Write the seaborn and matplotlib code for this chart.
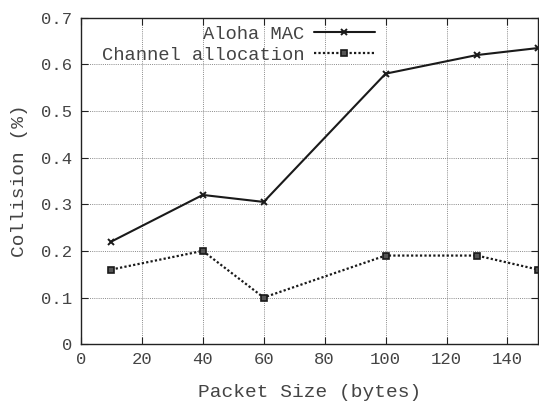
import matplotlib
matplotlib.use("Agg")
import matplotlib.pyplot as plt
import seaborn as sns
import pandas as pd

packet_size = [10, 40, 60, 100, 130, 150]
aloha_mac = [0.22, 0.32, 0.305, 0.58, 0.62, 0.635]
channel_alloc = [0.16, 0.20, 0.10, 0.19, 0.19, 0.16]
series_names = ["Aloha MAC", "Channel allocation"]
x_ticks = [0, 20, 40, 60, 80, 100, 120, 140]
y_ticks = [0, 0.1, 0.2, 0.3, 0.4, 0.5, 0.6, 0.7]

sns.set_style("ticks")
plt.rcParams["font.family"] = ["Liberation Mono", "DejaVu Sans Mono"]
text_color = "#444444"

fig = plt.figure(figsize=(5.39, 4.03), dpi=100)
ax = fig.add_axes([0.150, 0.146, 0.848, 0.810])

sns.lineplot(x=packet_size, y=aloha_mac, ax=ax, color="#1a1a1a", linewidth=1.5,
             marker="x", markersize=5, markeredgewidth=1.4,
             markeredgecolor="#1a1a1a", label=series_names[0])
sns.lineplot(x=packet_size, y=channel_alloc, ax=ax, color="#1a1a1a", linewidth=1.6,
             linestyle=(0, (1, 1)), marker="s", markersize=5, markeredgewidth=1.2,
             markerfacecolor="#555555", markeredgecolor="#1a1a1a", label=series_names[1])

ax.set_xlim(0, 150)
ax.set_ylim(0, 0.7)
ax.set_xticks(x_ticks)
ax.set_yticks(y_ticks)
ax.set_xticklabels([str(t) for t in x_ticks])
ax.set_yticklabels(["0"] + [f"{t:.1f}" for t in y_ticks[1:]])
ax.grid(True, color="#8a8a8a", linestyle=(0, (1, 1.2)), linewidth=0.7)
ax.tick_params(direction="in", top=True, right=True, length=5, width=0.8,
               labelsize=12.4, colors="#222222", labelcolor=text_color, pad=6)
for s in ax.spines.values():
    s.set_color("#222222")
    s.set_linewidth(1.0)
ax.set_xlabel("Packet Size (bytes)", fontsize=14, color=text_color, labelpad=12)
ax.set_ylabel("Collision (%)", fontsize=14, color=text_color, labelpad=10)

leg = ax.legend(loc="upper center", bbox_to_anchor=(0.345, 1.01), frameon=False,
                markerfirst=False, fontsize=13.5, handlelength=3.3,
                labelspacing=0.2, handletextpad=0.5, borderaxespad=0.2)
for t in leg.get_texts():
    t.set_color(text_color)

fig.savefig("out.png", dpi=100)
